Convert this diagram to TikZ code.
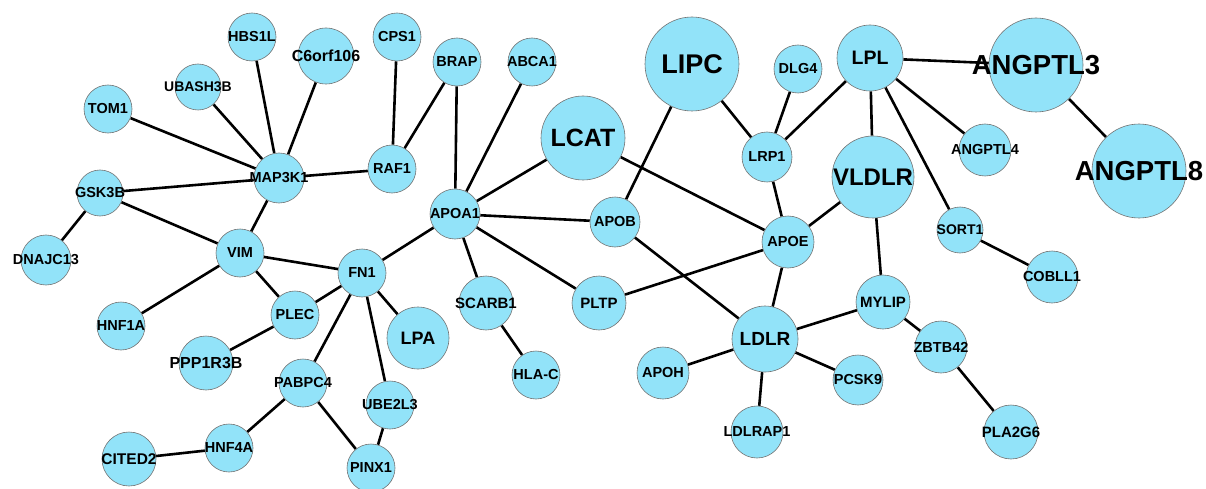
\documentclass[tikz,border=0pt]{standalone}
\usepackage{fontspec}
\setmainfont{Liberation Sans}
\usepackage{tikz}
\usetikzlibrary{backgrounds}
\definecolor{genefill}{HTML}{92E3F9}

\begin{document}
\begin{tikzpicture}[x=1pt, y=-1pt,
  gene/.style={circle, draw=black!55, line width=0.6pt, fill=genefill, inner sep=0pt},
  link/.style={black, line width=2.6pt}]
  \useasboundingbox (0,0) rectangle (1206,489);
  \clip (0,0) rectangle (1206,489);

  % genes: x/y/radius/font size/name
  \foreach \x/\y/\rad/\fs/\name in {
    252/37/24/14.5/HBS1L, 326/56/28/16/C6orf106, 198/87/23/14/UBASH3B,
    108/109/24/14.5/TOM1, 279/178/25/14.5/MAP3K1, 100/193/23/14.5/GSK3B,
    397/37/24/14.5/CPS1, 392/169/24/14.5/RAF1, 457/62/24/14.5/BRAP,
    532/62/24/14.5/ABCA1, 583/138/42/25/LCAT, 692/64/47/27/LIPC,
    798/69/24/14.5/DLG4, 870/58/33/19.5/LPL, 1036/65/47/27.5/ANGPTL3,
    1139/171/47/27.5/ANGPTL8, 985/150/26/14.5/ANGPTL4, 873/177/41/24/VLDLR,
    767/157/25/14.5/LRP1, 455/214/25/14.5/APOA1, 615/222/25/14.5/APOB,
    788/242/26/14.5/APOE, 960/230/23/14/SORT1, 1052/277/26/14.5/COBLL1,
    46/260/25/14.5/DNAJC13, 240/253/24/14.5/VIM, 362/273/24/14.5/FN1,
    121/326/24/14.5/HNF1A, 295/315/24/14.5/PLEC, 206/363/27/16/PPP1R3B,
    418/338/31/18/LPA, 486/303/27/15/SCARB1, 536/375/24/14.5/HLA-C,
    599/303/27/15/PLTP, 303/383/24/14.5/PABPC4, 390/405/24/14.5/UBE2L3,
    229/448/24/14.5/HNF4A, 129/459/27/15.5/CITED2, 371/468/24/14.5/PINX1,
    765/339/33/19/LDLR, 883/302/27/15/MYLIP, 941/347/26/14.5/ZBTB42,
    663/373/26/14.5/APOH, 858/380/25/14.5/PCSK9, 757/432/26/14.5/LDLRAP1,
    1011/432/27/15/PLA2G6} {
    \node[gene, minimum size=2*\rad pt, font=\bfseries\fontsize{\fs}{\fs}\selectfont]
      (\name) at (\x,\y) {\makebox[0pt]{\name}};
  }

  % interactions
  \begin{scope}[on background layer]
    \foreach \a/\b in {
      MAP3K1/HBS1L, MAP3K1/C6orf106, MAP3K1/UBASH3B, MAP3K1/TOM1, MAP3K1/GSK3B,
      MAP3K1/RAF1, MAP3K1/VIM, GSK3B/DNAJC13, GSK3B/VIM, RAF1/CPS1, RAF1/BRAP,
      APOA1/BRAP, APOA1/ABCA1, APOA1/LCAT, APOA1/APOB, APOA1/FN1, APOA1/SCARB1,
      APOA1/PLTP, VIM/FN1, VIM/HNF1A, VIM/PLEC, FN1/PLEC, FN1/LPA, FN1/PABPC4,
      FN1/UBE2L3, PLEC/PPP1R3B, PABPC4/HNF4A, PABPC4/PINX1, HNF4A/CITED2,
      UBE2L3/PINX1, SCARB1/HLA-C, LCAT/APOE, LIPC/APOB, LIPC/LRP1, APOB/LDLR,
      PLTP/APOE, LRP1/DLG4, LRP1/LPL, LRP1/APOE, APOE/VLDLR, APOE/LDLR,
      LPL/ANGPTL3, LPL/VLDLR, LPL/ANGPTL4, LPL/SORT1, ANGPTL3/ANGPTL8,
      SORT1/COBLL1, VLDLR/MYLIP, MYLIP/LDLR, MYLIP/ZBTB42, LDLR/APOH,
      LDLR/PCSK9, LDLR/LDLRAP1, ZBTB42/PLA2G6}
      \draw[link] (\a) -- (\b);
  \end{scope}
\end{tikzpicture}
\end{document}
